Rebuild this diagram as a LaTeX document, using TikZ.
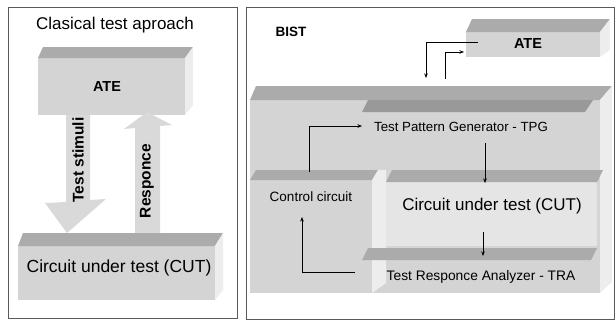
\documentclass[tikz,border=0pt]{standalone}
\usepackage{fontspec}
\setmainfont{Liberation Sans}
\usetikzlibrary{arrows.meta}
\begin{document}
\begin{tikzpicture}[x=1pt,y=-1pt,
  frontf/.style={fill=black!17},
  lightf/.style={fill=black!10},
  topf/.style={fill=black!33},
  tpgtopf/.style={fill=black!40},
  sidef/.style={fill=black!7},
  blockarrow/.style={fill=black!15},
  frame/.style={draw=black!65,line width=0.7pt},
  con/.style={draw=black,line width=0.6pt,-{Stealth[length=4.5pt,width=3.5pt]}},
  lbl/.style={inner sep=0pt,text=black}]
\useasboundingbox (0,0) rectangle (616,322);

% ---------- frames ----------
\draw[frame] (8,7) rectangle (237,318);
\draw[frame] (246,7) rectangle (614,319);

% ---------- left panel ----------
\node[lbl,font=\fontsize{17}{20}\selectfont] (title) at (115,25) {Clasical test aproach};

% ATE box (left)
\fill[frontf] (38,58) rectangle (185,115);
\fill[topf] (38,58) -- (43,47) -- (193,47) -- (185,58) -- cycle;
\fill[sidef] (185,58) -- (193,47) -- (193,105) -- (185,115) -- cycle;
\node[lbl,font=\bfseries\fontsize{14.5}{16}\selectfont] (ateL) at (107,87) {ATE};

% Test stimuli arrow (down)
\fill[blockarrow] (66,115) -- (90,115) -- (90,200) -- (106,199) -- (67,233) -- (45,203) -- (66,202) -- cycle;
\node[lbl,rotate=90,font=\bfseries\fontsize{15.5}{17}\selectfont] (stim) at (78,160) {Test stimuli};

% Responce arrow (up)
\fill[blockarrow] (135,233) -- (135,128) -- (124,129) -- (147,112) -- (172,125) -- (160,126) -- (160,233) -- cycle;
\node[lbl,rotate=90,font=\bfseries\fontsize{15.5}{17}\selectfont] (resp) at (147,181) {Responce};

% CUT box (left)
\fill[frontf] (18,246) rectangle (215,300);
\fill[topf] (18,246) -- (23,233) -- (223,233) -- (215,246) -- cycle;
\fill[sidef] (215,246) -- (223,233) -- (223,290) -- (215,300) -- cycle;
\node[lbl,font=\fontsize{17.5}{20}\selectfont] (cutL) at (119,268) {Circuit under test (CUT)};

% ---------- right panel ----------
\node[lbl,font=\bfseries\fontsize{13.5}{16}\selectfont] (bist) at (291,32) {BIST};

% ATE box (right)
\fill[frontf] (466,32) rectangle (600,57);
\fill[topf] (466,32) -- (472,19) -- (610,19) -- (600,32) -- cycle;
\fill[sidef] (600,32) -- (610,19) -- (610,50) -- (600,57) -- cycle;
\node[lbl,font=\bfseries\fontsize{14.5}{16}\selectfont] (ateR) at (528,44) {ATE};

% big BIST box
\fill[frontf] (250,100) rectangle (600,293);
\fill[topf] (250,100) -- (256,86) -- (612,86) -- (600,100) -- cycle;
\fill[sidef] (600,100) -- (612,86) -- (612,282) -- (600,293) -- cycle;

% TPG
\fill[tpgtopf] (362,112) -- (368,100) -- (593,100) -- (585,112) -- cycle;
\node[lbl,font=\fontsize{13.3}{15}\selectfont] (tpg) at (461,127) {Test Pattern Generator - TPG};

% Control circuit
\fill[topf] (250,180) -- (256,170) -- (378,170) -- (372,180) -- cycle;
\fill[sidef] (372,180) -- (378,170) -- (386,170) -- (386,283) -- (372,293) -- cycle;
\node[lbl,font=\fontsize{13.5}{15}\selectfont] (cc) at (311,197) {Control circuit};

% CUT (right)
\fill[lightf] (386,182) rectangle (597,246);
\fill[topf] (386,182) -- (392,170) -- (603,170) -- (597,182) -- cycle;
\node[lbl,font=\fontsize{17}{19}\selectfont] (cutR) at (492,206) {Circuit under test (CUT)};

% TRA
\fill[topf] (362,260) -- (368,248) -- (597,248) -- (591,260) -- cycle;
\node[lbl,font=\fontsize{13.8}{15}\selectfont] (tra) at (481,277) {Test Responce Analyzer - TRA};

% ---------- connector points ----------
\coordinate (ateOut) at (478,42);
\coordinate (bistIn) at (426,78);
\coordinate (bistOut) at (445,79);
\coordinate (ateIn) at (464,52);
\coordinate (ccUp) at (309,172);
\coordinate (tpgIn) at (362,126);
\coordinate (tpgOut) at (485,143);
\coordinate (cutIn) at (485,183);
\coordinate (cutOut) at (483,232);
\coordinate (traIn) at (483,256);
\coordinate (traOut) at (355,272);
\coordinate (ccIn) at (302,217);

\draw[con] (ateOut) -| (bistIn);
\draw[con] (bistOut) |- (ateIn);
\draw[con] (ccUp) |- (tpgIn);
\draw[con] (tpgOut) -- (cutIn);
\draw[con] (cutOut) -- (traIn);
\draw[con] (traOut) -| (ccIn);
\end{tikzpicture}
\end{document}
